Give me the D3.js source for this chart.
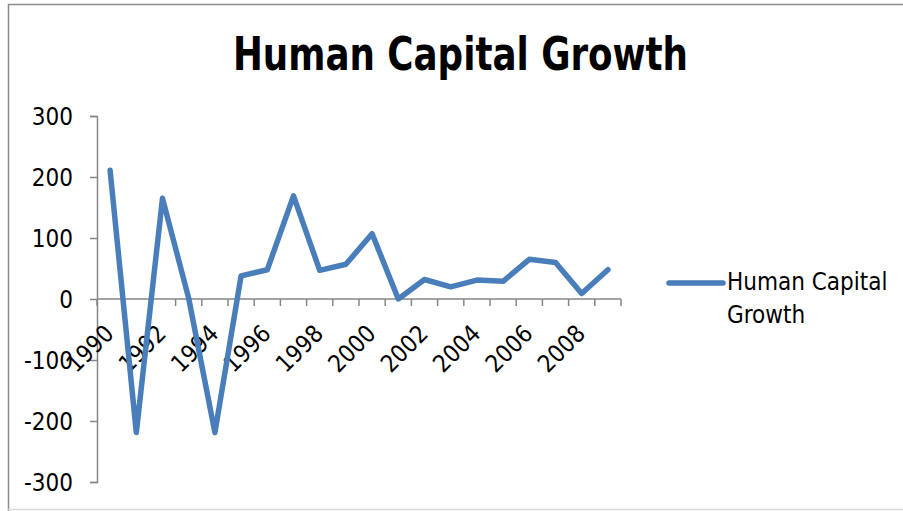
<!DOCTYPE html>
<html>
<head>
<meta charset="utf-8">
<script src="https://cdn.jsdelivr.net/npm/d3@7"></script>
<style>
  body { margin: 0; background: #fff; }
  svg text { font-family: "Liberation Sans Narrow", "DejaVu Sans Condensed", "Roboto Condensed", sans-serif; }
</style>
</head>
<body>
<svg id="chart" width="903" height="511"></svg>
<script>
// chart data
const years = d3.range(1990, 2010).map(String);
const growth = [211, -219, 165, 1, -219, 38, 48, 169, 47, 57, 107, 0, 32, 20, 31, 29, 65, 60, 9, 48];
const yTicks = [-300, -200, -100, 0, 100, 200, 300];
const seriesName = "Human Capital Growth";

const svg = d3.select("#chart");

// outer frame
svg.append("path")
    .attr("d", "M8.5,511 L8.5,4.5 L903,4.5")
    .attr("fill", "none")
    .attr("stroke", "#8c8c8c")
    .attr("stroke-width", 1.5);
svg.append("line")
    .attr("x1", 8).attr("x2", 903).attr("y1", 509.5).attr("y2", 509.5)
    .attr("stroke", "#d9d9d9").attr("stroke-width", 1.5);

// title, squeezed to mimic the narrow bold face
svg.append("text")
    .attr("x", 233).attr("y", 70)
    .attr("font-size", 46).attr("font-weight", "bold")
    .attr("textLength", 455)
    .attr("lengthAdjust", "spacingAndGlyphs")
    .text(seriesName);

const plotLeft = 97, plotRight = 621, plotTop = 116, plotBottom = 482;

const x = d3.scaleBand().domain(years).range([plotLeft, plotRight]);
const y = d3.scaleLinear().domain([-300, 300]).range([plotBottom, plotTop]);

const axisColor = "#868686";

// y axis
const yAxis = svg.append("g").attr("transform", `translate(${plotLeft},0)`)
    .call(d3.axisLeft(y).tickValues(yTicks).tickSize(7).tickPadding(17).tickFormat(d => String(d)));
yAxis.select(".domain").attr("stroke", axisColor).attr("stroke-width", 1.5);
yAxis.selectAll(".tick line").attr("stroke", axisColor).attr("stroke-width", 1.5);
yAxis.selectAll(".tick text")
    .attr("font-size", 24)
    .attr("fill", "#000")
    .attr("dy", "0.35em")
    .style("font-family", "\"Liberation Sans Narrow\", \"DejaVu Sans Condensed\", sans-serif");

// x axis at zero, ticks at category boundaries
const xAxisG = svg.append("g").attr("transform", `translate(0,${y(0)})`);
xAxisG.append("line")
    .attr("x1", plotLeft).attr("x2", plotRight)
    .attr("stroke", axisColor).attr("stroke-width", 1.5);
const boundaries = years.map(d => x(d)).concat([plotRight]);
xAxisG.selectAll(".xtick").data(boundaries).join("line")
    .attr("class", "xtick")
    .attr("x1", d => d).attr("x2", d => d)
    .attr("y1", 0).attr("y2", 7)
    .attr("stroke", axisColor).attr("stroke-width", 1.5);

// rotated year labels, every other year
xAxisG.selectAll(".xlabel").data(years.filter((d, i) => i % 2 === 0)).join("text")
    .attr("class", "xlabel")
    .attr("text-anchor", "end")
    .attr("font-size", 24)
    .attr("transform", d => `translate(${x(d) + x.bandwidth() / 2 + 5},${36}) rotate(-45)`)
    .text(d => d);

// series line
const line = d3.line()
    .x((d, i) => x(years[i]) + x.bandwidth() / 2)
    .y(d => y(d));
svg.append("path")
    .datum(growth)
    .attr("d", line)
    .attr("fill", "none")
    .attr("stroke", "#4a7ebb")
    .attr("stroke-width", 5.5)
    .attr("stroke-linejoin", "round")
    .attr("stroke-linecap", "round");

// legend
const legend = svg.append("g");
legend.append("line")
    .attr("x1", 669).attr("x2", 723).attr("y1", 283).attr("y2", 283)
    .attr("stroke", "#4a7ebb").attr("stroke-width", 5.5).attr("stroke-linecap", "round");
legend.append("text")
    .attr("x", 727).attr("y", 290)
    .attr("font-size", 24)
    .text("Human Capital");
legend.append("text")
    .attr("x", 727).attr("y", 323)
    .attr("font-size", 24)
    .text("Growth");
</script>
</body>
</html>
